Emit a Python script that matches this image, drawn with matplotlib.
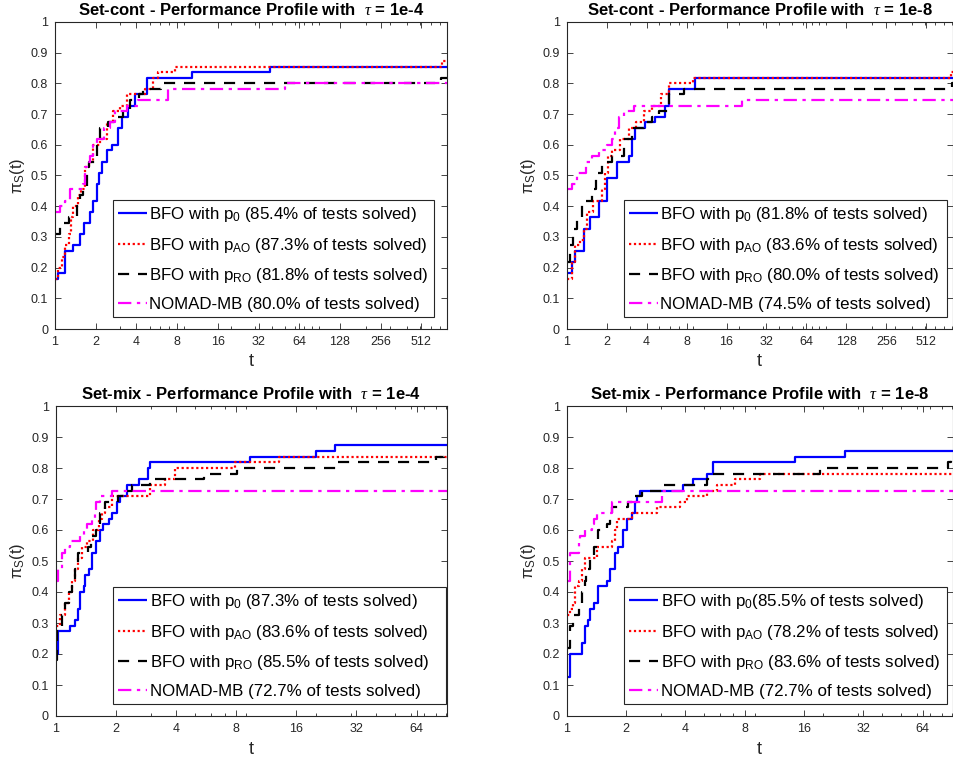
import matplotlib
matplotlib.use("Agg")
import matplotlib.pyplot as plt
from matplotlib.ticker import FixedLocator, LogLocator, NullFormatter, FixedFormatter
import numpy as np

plt.rcParams['font.family'] = ['Liberation Sans', 'DejaVu Sans']
plt.rcParams['mathtext.fontset'] = 'custom'
plt.rcParams['mathtext.rm'] = 'Liberation Sans'
plt.rcParams['mathtext.it'] = 'Liberation Serif:italic'
plt.rcParams['mathtext.bf'] = 'Liberation Sans:bold'
plt.rcParams['mathtext.default'] = 'regular'

# ---------------- data ----------------
titles = ["Set-cont - Performance Profile with  $\\mathit{\\tau}$ = 1e-4",
          "Set-cont - Performance Profile with  $\\mathit{\\tau}$ = 1e-8",
          "Set-mix - Performance Profile with  $\\mathit{\\tau}$ = 1e-4",
          "Set-mix - Performance Profile with  $\\mathit{\\tau}$ = 1e-8"]

xticks_top = [1, 2, 4, 8, 16, 32, 64, 128, 256, 512]
xticks_bottom = [1, 2, 4, 8, 16, 32, 64]
yticks = [0, 0.1, 0.2, 0.3, 0.4, 0.5, 0.6, 0.7, 0.8, 0.9, 1.0]
xmax = [793, 810, 90.5, 91]

# Top-left: Set-cont, tau=1e-4
tl_p0_t = [1, 1.05, 1.19, 1.37, 1.53, 1.65, 1.82, 1.92, 2.03, 2.12, 2.21, 2.41, 2.62, 2.94, 3.11, 3.49, 3.91, 4.76, 10.3, 39]
tl_p0_y = [0.164, 0.182, 0.255, 0.273, 0.309, 0.345, 0.382, 0.418, 0.473, 0.509, 0.545, 0.582, 0.6, 0.655, 0.691, 0.727, 0.764, 0.818, 0.836, 0.855]
tl_pao_t = [1, 1.05, 1.12, 1.19, 1.26, 1.31, 1.37, 1.49, 1.57, 1.67, 1.77, 1.92, 2.15, 2.41, 2.7, 3.03, 3.39, 4.63, 5.34, 5.81, 7.7, 724]
tl_pao_y = [0.164, 0.2, 0.236, 0.273, 0.309, 0.364, 0.4, 0.436, 0.455, 0.527, 0.545, 0.6, 0.618, 0.673, 0.709, 0.727, 0.764, 0.782, 0.818, 0.836, 0.855, 0.873]
tl_pro_t = [1, 1.09, 1.26, 1.45, 1.53, 1.62, 1.72, 1.77, 2.03, 2.15, 2.48, 2.85, 3.2, 3.61, 4.19, 4.46, 6.1, 720]
tl_pro_y = [0.309, 0.345, 0.364, 0.4, 0.436, 0.455, 0.527, 0.545, 0.618, 0.655, 0.673, 0.691, 0.709, 0.745, 0.764, 0.782, 0.8, 0.818]
tl_nomad_t = [1, 1.09, 1.19, 1.3, 1.6, 1.67, 1.72, 1.8, 1.92, 2.03, 2.3, 2.55, 2.8, 3.4, 4.1, 6.9, 50]
tl_nomad_y = [0.382, 0.4, 0.418, 0.455, 0.473, 0.527, 0.545, 0.564, 0.6, 0.618, 0.655, 0.673, 0.709, 0.727, 0.745, 0.782, 0.8]

# Top-right: Set-cont, tau=1e-8
tr_p0_t = [1, 1.1, 1.16, 1.34, 1.5, 1.74, 2.0, 2.39, 2.93, 3.1, 3.29, 3.91, 4.65, 5.54, 5.87, 9.33]
tr_p0_y = [0.182, 0.218, 0.255, 0.327, 0.364, 0.418, 0.491, 0.545, 0.564, 0.618, 0.655, 0.673, 0.691, 0.727, 0.782, 0.818]
tr_pao_t = [1, 1.1, 1.16, 1.25, 1.34, 1.42, 1.58, 1.85, 1.95, 2.05, 2.2, 2.5, 2.93, 3.3, 3.8, 4.4, 5.1, 5.87, 8.9, 790]
tr_pao_y = [0.164, 0.218, 0.273, 0.291, 0.327, 0.382, 0.418, 0.455, 0.509, 0.564, 0.582, 0.618, 0.655, 0.673, 0.709, 0.727, 0.764, 0.8, 0.818, 0.836]
tr_pro_t = [1, 1.05, 1.12, 1.2, 1.3, 1.55, 1.65, 1.83, 2.2, 2.7, 3.1, 3.8, 4.4, 5.0, 5.87, 7.6, 800]
tr_pro_y = [0.218, 0.273, 0.327, 0.364, 0.418, 0.455, 0.509, 0.545, 0.564, 0.618, 0.655, 0.673, 0.691, 0.709, 0.764, 0.782, 0.8]
tr_nomad_t = [1, 1.1, 1.2, 1.4, 1.55, 1.75, 2.0, 2.19, 2.32, 2.46, 2.68, 3.19, 21]
tr_nomad_y = [0.455, 0.473, 0.509, 0.545, 0.564, 0.582, 0.6, 0.618, 0.655, 0.691, 0.709, 0.727, 0.745]

# Bottom-left: Set-mix, tau=1e-4
bl_p0_t = [1, 1.03, 1.18, 1.25, 1.3, 1.32, 1.38, 1.4, 1.46, 1.52, 1.6, 1.67, 1.73, 1.84, 1.91, 2.02, 2.1, 2.27, 2.6, 2.91, 2.97, 9.4, 20, 25]
bl_p0_y = [0.2, 0.273, 0.291, 0.309, 0.345, 0.4, 0.418, 0.455, 0.473, 0.527, 0.564, 0.6, 0.618, 0.636, 0.655, 0.691, 0.709, 0.745, 0.764, 0.8, 0.818, 0.836, 0.855, 0.873]
bl_pao_t = [1, 1.05, 1.11, 1.16, 1.2, 1.25, 1.3, 1.35, 1.43, 1.54, 1.64, 1.7, 1.77, 1.91, 2.97, 3.53, 3.97, 7.9, 13.1]
bl_pao_y = [0.291, 0.327, 0.364, 0.4, 0.436, 0.473, 0.509, 0.545, 0.564, 0.6, 0.636, 0.655, 0.673, 0.709, 0.745, 0.764, 0.8, 0.818, 0.836]
bl_pro_t = [1, 1.02, 1.04, 1.08, 1.11, 1.16, 1.2, 1.25, 1.3, 1.45, 1.51, 1.6, 1.67, 1.77, 2.05, 2.3, 2.4, 2.97, 5.5, 8.1, 25.7, 80, 88]
bl_pro_y = [0.182, 0.273, 0.291, 0.327, 0.364, 0.4, 0.436, 0.473, 0.527, 0.545, 0.582, 0.6, 0.655, 0.691, 0.709, 0.727, 0.745, 0.764, 0.782, 0.8, 0.818, 0.836, 0.855]
bl_nomad_t = [1, 1.03, 1.07, 1.11, 1.18, 1.32, 1.38, 1.43, 1.52, 1.58, 1.6, 1.67, 1.91]
bl_nomad_y = [0.436, 0.473, 0.527, 0.545, 0.564, 0.582, 0.6, 0.618, 0.636, 0.655, 0.691, 0.709, 0.727]

# Bottom-right: Set-mix, tau=1e-8
br_p0_t = [1, 1.04, 1.19, 1.24, 1.29, 1.31, 1.37, 1.45, 1.6, 1.66, 1.76, 1.83, 1.94, 2.02, 2.14, 2.22, 2.27, 2.36, 3.91, 4.39, 5.13, 5.55, 14.4, 25.9]
br_p0_y = [0.127, 0.2, 0.236, 0.291, 0.309, 0.345, 0.364, 0.418, 0.436, 0.473, 0.527, 0.545, 0.6, 0.636, 0.655, 0.691, 0.709, 0.727, 0.745, 0.764, 0.782, 0.818, 0.836, 0.855]
br_pao_t = [1, 1.04, 1.08, 1.1, 1.15, 1.19, 1.24, 1.42, 1.69, 1.76, 1.79, 2.14, 2.86, 3.76, 4.06, 5.13, 5.77, 7.15, 9.58]
br_pao_y = [0.327, 0.345, 0.364, 0.418, 0.436, 0.473, 0.509, 0.545, 0.564, 0.6, 0.636, 0.655, 0.673, 0.691, 0.709, 0.727, 0.745, 0.764, 0.782]
br_pro_t = [1, 1.04, 1.08, 1.15, 1.19, 1.24, 1.26, 1.31, 1.37, 1.45, 1.6, 1.66, 1.69, 2.05, 2.22, 2.4, 3.04, 5.13, 5.44, 19.3, 86, 89]
br_pro_y = [0.218, 0.291, 0.327, 0.364, 0.4, 0.436, 0.473, 0.509, 0.545, 0.6, 0.618, 0.655, 0.673, 0.691, 0.709, 0.727, 0.745, 0.764, 0.782, 0.8, 0.818, 0.836]
br_nomad_t = [1, 1.04, 1.15, 1.17, 1.24, 1.34, 1.37, 1.42, 1.69, 3.04]
br_nomad_y = [0.436, 0.527, 0.564, 0.582, 0.6, 0.618, 0.636, 0.655, 0.691, 0.727]

tl_labels = ["BFO with p$_0$ (85.4% of tests solved)", "BFO with p$_{AO}$ (87.3% of tests solved)",
             "BFO with p$_{RO}$ (81.8% of tests solved)", "NOMAD-MB (80.0% of tests solved)"]
tr_labels = ["BFO with p$_0$ (81.8% of tests solved)", "BFO with p$_{AO}$ (83.6% of tests solved)",
             "BFO with p$_{RO}$ (80.0% of tests solved)", "NOMAD-MB (74.5% of tests solved)"]
bl_labels = ["BFO with p$_0$ (87.3% of tests solved)", "BFO with p$_{AO}$ (83.6% of tests solved)",
             "BFO with p$_{RO}$ (85.5% of tests solved)", "NOMAD-MB (72.7% of tests solved)"]
br_labels = ["BFO with p$_0$(85.5% of tests solved)", "BFO with p$_{AO}$ (78.2% of tests solved)",
             "BFO with p$_{RO}$ (83.6% of tests solved)", "NOMAD-MB (72.7% of tests solved)"]

panels = [
    [(tl_p0_t, tl_p0_y), (tl_pao_t, tl_pao_y), (tl_pro_t, tl_pro_y), (tl_nomad_t, tl_nomad_y)],
    [(tr_p0_t, tr_p0_y), (tr_pao_t, tr_pao_y), (tr_pro_t, tr_pro_y), (tr_nomad_t, tr_nomad_y)],
    [(bl_p0_t, bl_p0_y), (bl_pao_t, bl_pao_y), (bl_pro_t, bl_pro_y), (bl_nomad_t, bl_nomad_y)],
    [(br_p0_t, br_p0_y), (br_pao_t, br_pao_y), (br_pro_t, br_pro_y), (br_nomad_t, br_nomad_y)],
]
labels = [tl_labels, tr_labels, bl_labels, br_labels]

# ---------------- styling ----------------
colors = ['#0000FF', '#FF0000', '#000000', '#FF00FF']
styles = ['-', (0, (1, 1.2)), (0, (5, 4)), (0, (6, 2.5, 1.5, 2.5))]
axcol = '#262626'

positions = [
    [55 / 954, 1 - 329 / 759, 392 / 954, 307 / 759],
    [566.7 / 954, 1 - 329 / 759, 386 / 954, 307 / 759],
    [55.7 / 954, 1 - 716 / 759, 391 / 954, 310 / 759],
    [566.7 / 954, 1 - 716 / 759, 386 / 954, 310 / 759],
]
legend_boxes = [
    (0.148, 0.039, 0.819, 0.384),
    (0.148, 0.039, 0.837, 0.384),
    (0.147, 0.039, 0.851, 0.380),
    (0.149, 0.039, 0.836, 0.380),
]

fig = plt.figure(figsize=(9.54, 7.59), dpi=100)

for i in range(4):
    ax = fig.add_axes(positions[i])
    ax.set_xscale('log', base=2)
    for j, (t, y) in enumerate(panels[i]):
        tt = list(t) + [xmax[i]]
        yy = list(y) + [y[-1]]
        ax.step(tt, yy, where='post', color=colors[j], linestyle=styles[j],
                linewidth=1.6, label=labels[i][j], solid_capstyle='butt', dash_capstyle='butt')
    ax.set_xlim(1, xmax[i])
    ax.set_ylim(0, 1)
    xt = xticks_top if i < 2 else xticks_bottom
    ax.xaxis.set_major_locator(FixedLocator(xt))
    ax.xaxis.set_major_formatter(FixedFormatter([str(v) for v in xt]))
    ax.xaxis.set_minor_locator(LogLocator(base=10, subs=np.arange(2, 10), numticks=50))
    ax.xaxis.set_minor_formatter(NullFormatter())
    ax.yaxis.set_major_locator(FixedLocator(yticks))
    ax.yaxis.set_major_formatter(FixedFormatter(['0', '0.1', '0.2', '0.3', '0.4', '0.5', '0.6', '0.7', '0.8', '0.9', '1']))
    ax.tick_params(which='both', direction='in', top=True, right=True, colors=axcol, labelsize=9)
    ax.tick_params(which='major', length=4, width=0.6, pad=5)
    ax.tick_params(which='minor', length=2.2, width=0.6)
    for s in ax.spines.values():
        s.set_color(axcol)
        s.set_linewidth(0.8)
    ax.set_title(titles[i], fontsize=12, fontweight='bold', pad=5)
    ax.set_xlabel('t', fontsize=13, color=axcol, labelpad=4)
    ax.set_ylabel('$\\pi_S$(t)', fontsize=12, color=axcol, labelpad=3)
    leg = ax.legend(loc='lower left', bbox_to_anchor=legend_boxes[i], mode='expand',
                    fontsize=12.2, frameon=True, fancybox=False, framealpha=1,
                    edgecolor=axcol, borderpad=0.3, labelspacing=0.68,
                    handlelength=1.7, handletextpad=0.15, borderaxespad=0)
    leg.get_frame().set_linewidth(0.8)

fig.savefig('out.png', dpi=100)
